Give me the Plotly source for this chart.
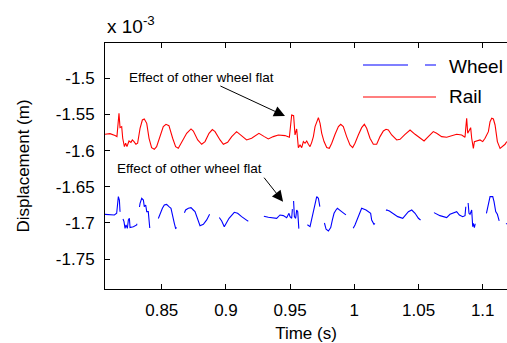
import plotly.graph_objects as go

# Time (s)
t_rail = [0.8058, 0.8097, 0.8136, 0.8151, 0.8167, 0.8175, 0.8188, 0.8196, 0.8209, 0.8219,
          0.8229, 0.8245, 0.8260, 0.8271, 0.8284, 0.8299, 0.8312, 0.8331, 0.8349, 0.8364,
          0.8383, 0.8401, 0.8421, 0.8442, 0.8460, 0.8486, 0.8512, 0.8533, 0.8556, 0.8585,
          0.8608, 0.8629, 0.8660, 0.8694, 0.8728, 0.8746, 0.8780, 0.8811, 0.8837, 0.8868,
          0.8894, 0.8915, 0.8954, 0.8980, 0.9013, 0.9045, 0.9083, 0.9117, 0.9161, 0.9200,
          0.9239, 0.9257, 0.9299, 0.9330, 0.9369, 0.9408, 0.9460, 0.9494, 0.9512, 0.9527,
          0.9538, 0.9551, 0.9564,
          0.9577, 0.9590, 0.9603, 0.9616, 0.9629, 0.9642, 0.9655, 0.9668, 0.9681, 0.9694,
          0.9707, 0.9720, 0.9733, 0.9746, 0.9764, 0.9785, 0.9805, 0.9824, 0.9850, 0.9876,
          0.9894, 0.9914, 0.9940, 0.9966, 0.9987, 1.0005, 1.0031, 1.0057, 1.0078, 1.0096,
          1.0122, 1.0148, 1.0174, 1.0200, 1.0226, 1.0247, 1.0265, 1.0291, 1.0330, 1.0356,
          1.0395, 1.0434, 1.0473, 1.0512, 1.0543, 1.0576, 1.0615, 1.0641, 1.0680, 1.0719,
          1.0758, 1.0797, 1.0836, 1.0862, 1.0870, 1.0875, 1.0883, 1.0896, 1.0906, 1.0914,
          1.0927, 1.0935, 1.0953, 1.0979, 1.1000, 1.1018, 1.1044, 1.1057, 1.1070, 1.1083,
          1.1096, 1.1114, 1.1135, 1.1155, 1.1174, 1.1187]
# Rail displacement (x 10^-3 m)
rail = [-1.5775, -1.5766, -1.5793, -1.5807, -1.5484, -1.5683, -1.5669, -1.5830, -1.5946, -1.5899,
        -1.5946, -1.5867, -1.5886, -1.5853, -1.5876, -1.5913, -1.5899, -1.5692, -1.5577, -1.5563,
        -1.5623, -1.5830, -1.5959, -1.5982, -1.5946, -1.5807, -1.5669, -1.5637, -1.5655, -1.5830,
        -1.5946, -1.5969, -1.5876, -1.5761, -1.5701, -1.5729, -1.5853, -1.5913, -1.5876, -1.5761,
        -1.5710, -1.5738, -1.5853, -1.5913, -1.5886, -1.5807, -1.5738, -1.5784, -1.5853, -1.5830,
        -1.5775, -1.5761, -1.5807, -1.5839, -1.5807, -1.5784, -1.5793, -1.5816, -1.5507, -1.5517,
        -1.5784, -1.5701, -1.5959,
        -1.5922, -1.5959, -1.5876, -1.5899, -1.5867, -1.5913, -1.5946, -1.5886, -1.5807, -1.5669,
        -1.5590, -1.5544, -1.5623, -1.5761, -1.5876, -1.5959, -1.5969, -1.5899, -1.5775, -1.5669,
        -1.5637, -1.5669, -1.5807, -1.5922, -1.5959, -1.5899, -1.5784, -1.5683, -1.5637, -1.5692,
        -1.5830, -1.5913, -1.5913, -1.5807, -1.5729, -1.5706, -1.5715, -1.5784, -1.5853, -1.5844,
        -1.5775, -1.5715, -1.5775, -1.5830, -1.5867, -1.5807, -1.5738, -1.5761, -1.5807, -1.5816,
        -1.5793, -1.5775, -1.5784, -1.5816, -1.5646, -1.5553, -1.5761, -1.5715, -1.5683, -1.5830,
        -1.5969, -1.5876, -1.5867, -1.5853, -1.5876, -1.5830, -1.5738, -1.5600, -1.5553, -1.5563,
        -1.5646, -1.5876, -1.5969, -1.5946, -1.5913, -1.5876]

t_wheel = [0.8058, 0.8097, 0.8131, 0.8149, 0.8162, 0.8170, 0.8175, 0.8188, 0.8196, 0.8206,
           0.8214, 0.8222, 0.8232, 0.8240, 0.8248, 0.8253, 0.8279, 0.8305, 0.8312, 0.8323,
           0.8331, 0.8344, 0.8357, 0.8364, 0.8375, 0.8383, 0.8395, 0.8408, 0.8434, 0.8453,
           0.8468, 0.8486, 0.8505, 0.8520, 0.8538, 0.8556, 0.8572, 0.8598, 0.8608, 0.8629,
           0.8650, 0.8668, 0.8686, 0.8707, 0.8728, 0.8746, 0.8759, 0.8798, 0.8824, 0.8850,
           0.8868, 0.8889, 0.8902, 0.8915, 0.8941, 0.8967, 0.8987, 0.9024, 0.9065, 0.9091,
           0.9122, 0.9148, 0.9169, 0.9195, 0.9221, 0.9247, 0.9278, 0.9330, 0.9395, 0.9421,
           0.9447, 0.9473, 0.9491, 0.9499, 0.9512, 0.9525, 0.9533, 0.9543, 0.9551, 0.9559,
           0.9569, 0.9585,
           0.9590, 0.9603, 0.9629, 0.9655, 0.9668, 0.9681, 0.9694, 0.9707, 0.9720, 0.9728,
           0.9738, 0.9754, 0.9764, 0.9780, 0.9798, 0.9816, 0.9829, 0.9842, 0.9857, 0.9868,
           0.9901, 0.9935, 0.9953, 0.9972, 0.9987, 1.0005, 1.0024, 1.0044, 1.0057, 1.0091,
           1.0127, 1.0135, 1.0153, 1.0174, 1.0200, 1.0226, 1.0252, 1.0273, 1.0299, 1.0338,
           1.0377, 1.0395, 1.0421, 1.0447, 1.0473, 1.0499, 1.0525, 1.0551, 1.0576, 1.0602,
           1.0615, 1.0667, 1.0719, 1.0745, 1.0776, 1.0797, 1.0818, 1.0844, 1.0862, 1.0875,
           1.0883, 1.0893, 1.0901, 1.0914, 1.0922, 1.0927, 1.0935, 1.0945, 1.0958, 1.0974,
           1.0992, 1.1010, 1.1026, 1.1036, 1.1047, 1.1057, 1.1078, 1.1088, 1.1101, 1.1114,
           1.1130, 1.1148, 1.1166, 1.1187]
# Wheel displacement (x 10^-3 m)
wheel = [-1.6882, -1.6882, -1.6891, -1.6868, -1.6637, -1.6684, -1.6845, -1.6776, -1.6937, -1.6983,
         -1.7076, -1.7029, -1.7076, -1.6960, -1.6937, -1.7066, -1.7053, -1.7029, -1.6868, -1.6822,
         -1.6730, -1.6660, -1.6684, -1.6776, -1.6753, -1.6845, -1.6845, -1.7099, -1.7076, -1.7029,
         -1.6960, -1.6868, -1.6799, -1.6753, -1.6744, -1.6776, -1.6799, -1.7006, -1.7076, -1.7053,
         -1.6974, -1.6891, -1.6822, -1.6799, -1.6790, -1.6822, -1.6845, -1.7039, -1.7020, -1.6960,
         -1.6891, -1.6822, -1.6808, -1.6845, -1.6914, -1.6974, -1.7053, -1.6937, -1.6854, -1.6868,
         -1.6914, -1.6951, -1.6974, -1.6951, -1.6914, -1.6900, -1.6900, -1.6923, -1.6937, -1.6891,
         -1.6900, -1.6928, -1.6868, -1.6914, -1.6937, -1.6637, -1.6914, -1.6937, -1.6822, -1.6845,
         -1.7113, -1.7053,
         -1.7076, -1.7029, -1.7020, -1.7053, -1.6937, -1.6845, -1.6707, -1.6637, -1.6660, -1.6730,
         -1.6845, -1.6914, -1.6983, -1.7089, -1.7113, -1.7066, -1.6960, -1.6868, -1.6822, -1.6799,
         -1.6845, -1.6891, -1.6960, -1.7029, -1.7089, -1.7029, -1.6937, -1.6868, -1.6799, -1.6822,
         -1.6868, -1.6960, -1.7020, -1.6983, -1.6928, -1.6868, -1.6822, -1.6836, -1.6868, -1.6914,
         -1.6937, -1.6900, -1.6845, -1.6822, -1.6868, -1.6937, -1.6974, -1.6960, -1.6914, -1.6868,
         -1.6854, -1.6900, -1.6928, -1.6882, -1.6854, -1.6845, -1.6891, -1.6914, -1.6900, -1.6637,
         -1.6660, -1.6868, -1.6882, -1.6822, -1.7053, -1.7006, -1.7066, -1.6983, -1.6974, -1.6960,
         -1.6960, -1.6937, -1.6891, -1.6799, -1.6730, -1.6637, -1.6637, -1.6707, -1.6845, -1.6882,
         -1.6983, -1.7099, -1.7066, -1.7006]

y_ticks = [-1.75, -1.7, -1.65, -1.6, -1.55, -1.5]
y_tick_labels = ["-1.75", "-1.7", "-1.65", "-1.6", "-1.55", "-1.5"]
x_ticks = [0.85, 0.9, 0.95, 1.0, 1.05, 1.1]
x_tick_labels = ["0.85", "0.9", "0.95", "1", "1.05", "1.1"]

FONT = "Liberation Sans, Arial, sans-serif"
NOTE = "Effect of other wheel flat"

fig = go.Figure()
fig.add_trace(go.Scatter(x=t_wheel, y=wheel, mode="lines", name="Wheel",
                         line=dict(color="#0000ff", width=1.1, dash="45px,17px"),
                         showlegend=False))
fig.add_trace(go.Scatter(x=t_rail, y=rail, mode="lines", name="Rail",
                         line=dict(color="#ff0000", width=1.1),
                         showlegend=False))

# manual legend (MATLAB-like long line samples)
fig.add_shape(type="line", xref="paper", yref="paper", x0=0.6418, x1=0.8234, y0=0.9106, y1=0.9106,
              line=dict(color="#0000ff", width=1.1, dash="45px,17px"))
fig.add_shape(type="line", xref="paper", yref="paper", x0=0.6418, x1=0.8234, y0=0.7805, y1=0.7805,
              line=dict(color="#ff0000", width=1.1))
fig.add_annotation(xref="paper", yref="paper", x=0.8507, y=0.9065, text="Wheel", showarrow=False,
                   xanchor="left", yanchor="middle", font=dict(family=FONT, size=19, color="black"))
fig.add_annotation(xref="paper", yref="paper", x=0.8507, y=0.7805, text="Rail", showarrow=False,
                   xanchor="left", yanchor="middle", font=dict(family=FONT, size=19, color="black"))

# annotations with arrows pointing at the flat impacts
fig.add_annotation(x=0.9460, y=-1.5522, text=NOTE, showarrow=True, ax=-84, ay=-39,
                   arrowhead=2, arrowsize=2.2, arrowwidth=1, arrowcolor="black",
                   font=dict(family=FONT, size=13.5, color="black"))
fig.add_annotation(x=0.9445, y=-1.6707, text=NOTE, showarrow=True, ax=-19, ay=-24,
                   xanchor="right", yanchor="bottom",
                   arrowhead=2, arrowsize=2.2, arrowwidth=1, arrowcolor="black",
                   font=dict(family=FONT, size=13.5, color="black"))

# exponent label
fig.add_annotation(xref="paper", yref="paper", x=0.0, y=1.075, text="x 10<sup>-3</sup>",
                   showarrow=False, xanchor="left", yanchor="middle",
                   font=dict(family=FONT, size=19, color="black"))

fig.update_layout(
    width=507, height=343,
    margin=dict(l=105, r=0, t=43, b=54),
    plot_bgcolor="white", paper_bgcolor="white",
    font=dict(family=FONT, size=17, color="black"),
    xaxis=dict(range=[0.8058, 1.1189], tickvals=x_ticks, ticktext=x_tick_labels,
               ticks="inside", ticklen=5, tickcolor="black", showline=True, linecolor="black",
               linewidth=1, mirror="ticks", showgrid=False, zeroline=False,
               ticklabelstandoff=6,
               title=dict(text="Time (s)", standoff=7, font=dict(family=FONT, size=17))),
    yaxis=dict(range=[-1.7915, -1.4512], tickvals=y_ticks, ticktext=y_tick_labels,
               ticks="inside", ticklen=5, tickcolor="black", showline=True, linecolor="black",
               linewidth=1, mirror=False, showgrid=False, zeroline=False,
               ticklabelstandoff=6,
               title=dict(text="Displacement (m)", standoff=21, font=dict(family=FONT, size=17))),
)

fig.write_html("out.html", config={"displayModeBar": False},
               post_script="document.body.style.margin='0';")
